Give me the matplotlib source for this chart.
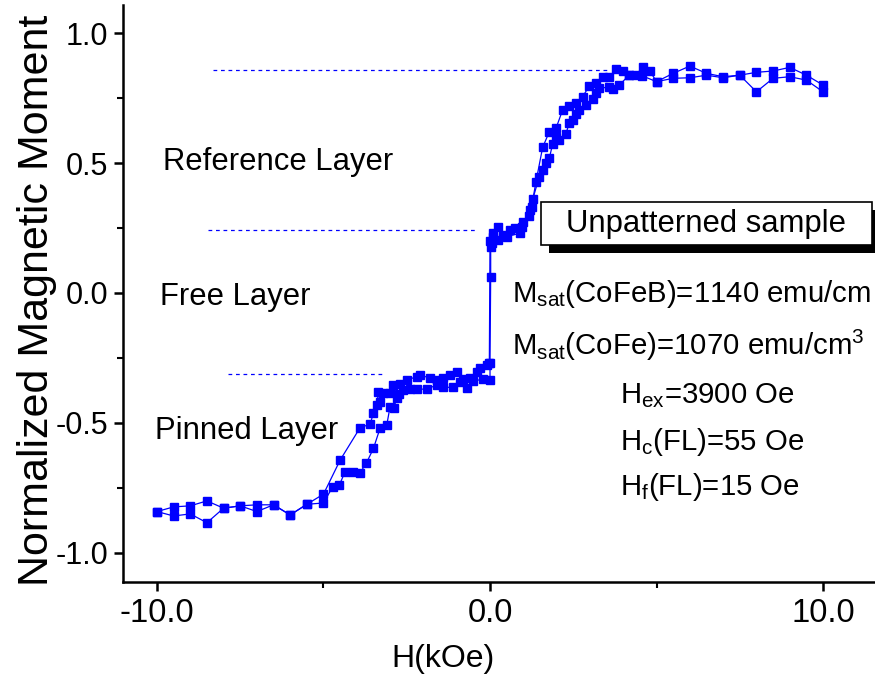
import matplotlib
matplotlib.use("Agg")
import matplotlib.pyplot as plt
from matplotlib.patches import Rectangle

plt.rcParams['font.family'] = ['Liberation Sans', 'DejaVu Sans']
plt.rcParams['mathtext.fontset'] = 'custom'
plt.rcParams['mathtext.rm'] = 'Liberation Sans'
plt.rcParams['mathtext.it'] = 'Liberation Sans'

# descending branch (upper curve)
h_down = [-10.0, -9.5, -9.0, -8.5, -8.0, -7.5, -7.0, -6.5, -6.0, -5.5, -5.0,
          -4.5, -3.9, -3.6, -3.5, -3.4, -3.35, -3.3, -3.2, -3.0, -2.9, -2.7,
          -2.5, -2.2, -2.1, -1.8, -1.6, -1.4, -1.2, -1.0, -0.8, -0.6, -0.4,
          -0.3, -0.1, -0.02, 0.0, 0.1, 0.25, 0.4, 0.6, 0.75, 0.95, 1.0, 1.18,
          1.25, 1.38, 1.58, 1.78, 1.98, 2.18, 2.38, 2.58, 2.78, 2.98, 3.18,
          3.38, 3.58, 3.78, 3.98, 4.18, 4.38, 4.59, 4.8, 5.0, 5.5, 6.0, 6.5,
          7.0, 7.5, 8.0, 8.5, 9.0, 9.5, 10.0]
m_down = [-0.841, -0.823, -0.819, -0.800, -0.828, -0.819, -0.815, -0.815,
          -0.854, -0.813, -0.774, -0.643, -0.518, -0.505, -0.462, -0.430,
          -0.381, -0.418, -0.383, -0.383, -0.354, -0.350, -0.335, -0.322,
          -0.315, -0.328, -0.335, -0.328, -0.315, -0.303, -0.330, -0.328,
          -0.303, -0.290, -0.277, -0.270, 0.200, 0.230, 0.255, 0.223, 0.242,
          0.249, 0.255, 0.274, 0.296, 0.332, 0.428, 0.560, 0.620, 0.633,
          0.704, 0.719, 0.732, 0.755, 0.796, 0.807, 0.832, 0.830, 0.860,
          0.854, 0.838, 0.838, 0.870, 0.854, 0.813, 0.845, 0.873, 0.845,
          0.832, 0.838, 0.849, 0.854, 0.868, 0.838, 0.800]

# ascending branch (lower curve)
h_up = [-10.0, -9.5, -9.0, -8.5, -8.0, -7.5, -7.0, -6.5, -6.0, -5.5, -5.0,
        -4.72, -4.52, -4.36, -4.11, -3.91, -3.71, -3.5, -3.3, -3.1, -3.0,
        -2.89, -2.8, -2.74, -2.6, -2.4, -2.2, -1.9, -1.6, -1.4, -1.1, -0.9,
        -0.7, -0.5, -0.2, 0.0, 0.0, 0.02, 0.02, 0.05, 0.1, 0.25, 0.5, 0.9,
        1.2, 1.28, 1.48, 1.58, 1.68, 1.78, 1.88, 1.98, 2.08, 2.28, 2.38, 2.48,
        2.58, 2.68, 2.88, 3.08, 3.18, 3.28, 3.58, 3.68, 3.88, 4.18, 4.56,
        5.0, 5.5, 6.0, 6.5, 7.0, 7.5, 8.0, 8.5, 9.0, 9.5, 10.0]
m_up = [-0.841, -0.858, -0.850, -0.884, -0.828, -0.819, -0.841, -0.815,
        -0.854, -0.813, -0.808, -0.745, -0.738, -0.690, -0.690, -0.693,
        -0.654, -0.598, -0.520, -0.508, -0.437, -0.443, -0.405, -0.388,
        -0.373, -0.369, -0.370, -0.370, -0.354, -0.363, -0.363, -0.341,
        -0.367, -0.340, -0.330, -0.335, -0.270, 0.063, 0.178, 0.191, 0.215,
        0.204, 0.217, 0.230, 0.319, 0.360, 0.447, 0.473, 0.501, 0.518, 0.573,
        0.601, 0.588, 0.612, 0.655, 0.665, 0.688, 0.704, 0.723, 0.745, 0.770,
        0.787, 0.793, 0.783, 0.800, 0.838, 0.836, 0.813, 0.826, 0.828, 0.838,
        0.828, 0.838, 0.774, 0.826, 0.832, 0.819, 0.774]

# guide levels: (y, x start, x end)
level_y = [0.858, 0.242, -0.312]
level_x0 = [-8.32, -8.47, -7.87]
level_x1 = [3.6, -0.45, -3.15]

layer_names = ["Reference Layer", "Free Layer", "Pinned Layer"]
param_lines = [r"M$_{\mathrm{sat}}$(CoFeB)=1140 emu/cm",
               r"M$_{\mathrm{sat}}$(CoFe)=1070 emu/cm$^{3}$",
               r"H$_{\mathrm{ex}}$=3900 Oe",
               r"H$_{\mathrm{c}}$(FL)=55 Oe",
               r"H$_{\mathrm{f}}$(FL)=15 Oe"]

W, H = 875, 675
fig = plt.figure(figsize=(8.75, 6.75), dpi=100)
ax = fig.add_axes([123 / W, 93 / H, 1 - 123 / W, (582 - 5) / H])

blue = '#0000ff'
ax.plot(h_down, m_down, '-s', color=blue, lw=0.9, ms=5.6, mec=blue)
ax.plot(h_up, m_up, '-s', color=blue, lw=0.9, ms=5.6, mec=blue)

for y, x0, x1 in zip(level_y, level_x0, level_x1):
    ax.plot([x0, x1], [y, y], color=blue, lw=0.9, ls=(0, (3, 3)))

ax.set_xlim(-11.02, 11.56)
ax.set_ylim(-1.112, 1.108)
ax.set_xticks([-10, 0, 10])
ax.set_xticklabels(["-10.0", "0.0", "10.0"])
ax.set_xticks([-5, 5], minor=True)
ax.set_yticks([-1.0, -0.5, 0.0, 0.5, 1.0])
ax.set_yticklabels(["-1.0", "-0.5", "0.0", "0.5", "1.0"])
ax.set_yticks([-0.75, -0.25, 0.25, 0.75], minor=True)

for s in ['top', 'right']:
    ax.spines[s].set_visible(False)
for s in ['left', 'bottom']:
    ax.spines[s].set_linewidth(1.8)
ax.tick_params(which='major', direction='out', length=6.5, width=1.8)
ax.tick_params(which='minor', direction='out', length=4, width=1.5)
ax.tick_params(axis='x', labelsize=23.5, pad=5)
ax.tick_params(axis='y', labelsize=22, pad=4)

fig.text(37 / W, 1 - 300 / H, "Normalized Magnetic Moment", rotation=90,
         fontsize=31, ha='center', va='center')
fig.text(443 / W, 1 - 667 / H, "H(kOe)", fontsize=23, ha='center',
         va='baseline')

# layer labels
layer_px = [(163, 170), (160, 305), (155, 439)]
for name, (px, py) in zip(layer_names, layer_px):
    fig.text(px / W, 1 - py / H, name, fontsize=22.3, ha='left', va='baseline')

# parameter text
param_px = [(512, 302), (512, 355), (620, 403), (620, 450), (620, 495)]
for txt, (px, py) in zip(param_lines, param_px):
    fig.text(px / W, 1 - py / H, txt, fontsize=21.2, ha='left', va='baseline')

# boxed label with shadow
fig.patches.append(Rectangle((549 / W, 1 - 253 / H), 340 / W, 43 / H,
                             transform=fig.transFigure, facecolor='black',
                             edgecolor='none', zorder=5))
fig.patches.append(Rectangle((541 / W, 1 - 245 / H), 331 / W, 43 / H,
                             transform=fig.transFigure, facecolor='white',
                             edgecolor='black', lw=1.2, zorder=6))
fig.text(706 / W, 1 - 224 / H, "Unpatterned sample", fontsize=22.3,
         ha='center', va='center', zorder=7)

fig.savefig("out.png", dpi=100)
